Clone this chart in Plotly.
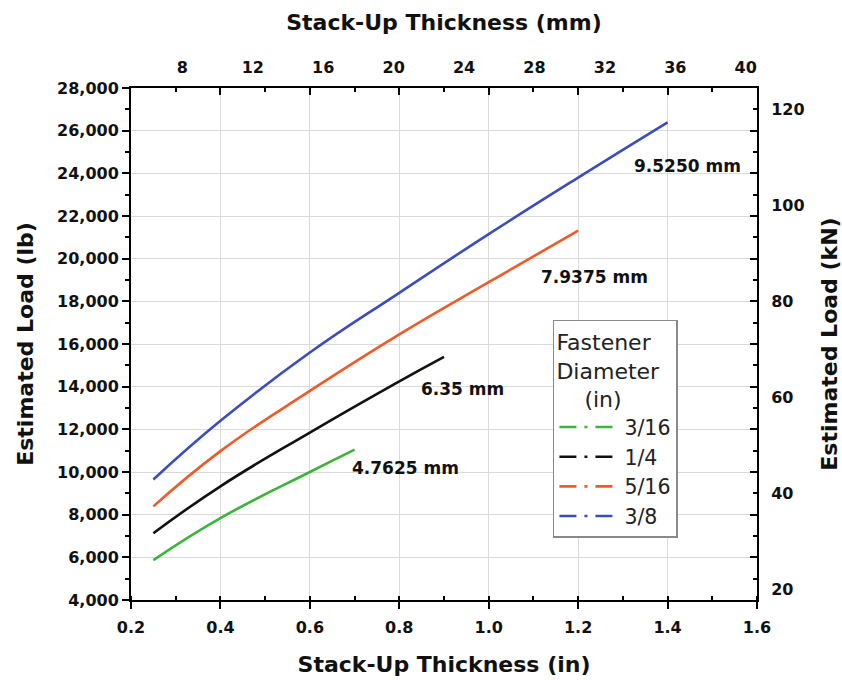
import plotly.graph_objects as go

# ---- data ----
diam_names = ["3/16", "1/4", "5/16", "3/8"]
diam_labels = ["4.7625 mm", "6.35 mm", "7.9375 mm", "9.5250 mm"]
colors = ["#3cb43c", "#111111", "#f05a28", "#3a4cc0"]

x_316 = [0.25, 0.4, 0.6, 0.7]
y_316 = [5870, 7840, 10000, 11050]
x_14 = [0.25, 0.4, 0.6, 0.8, 0.9]
y_14 = [7130, 9330, 11850, 14250, 15400]
x_516 = [0.25, 0.4, 0.6, 0.8, 1.0, 1.2]
y_516 = [8390, 10980, 13800, 16450, 18900, 21310]
x_38 = [0.25, 0.4, 0.6, 0.8, 1.0, 1.2, 1.4]
y_38 = [9650, 12400, 15600, 18400, 21150, 23800, 26390]

xs = [x_316, x_14, x_516, x_38]
ys = [y_316, y_14, y_516, y_38]

x_range_in = [0.2, 1.6]
y_range_lb = [4000, 28000]
IN_TO_MM = 25.4
LB_TO_KN = 0.00444822
mm_ticks = [8, 12, 16, 20, 24, 28, 32, 36, 40]
kn_ticks = [20, 40, 60, 80, 100, 120]

FONT = "DejaVu Sans"
tickfont = dict(family=FONT, size=16, color="#111", weight="bold")
titlefont = dict(family=FONT, size=22, color="#111", weight="bold")
clear = "rgba(0,0,0,0)"

fig = go.Figure()

for xv, yv, c in zip(xs, ys, colors):
    fig.add_trace(go.Scatter(x=xv, y=yv, mode="lines",
                             line=dict(color=c, width=2.6, shape="spline", smoothing=1.3),
                             showlegend=False, hoverinfo="skip"))

# legend entries (dash-dot samples)
for name, c in zip(diam_names, colors):
    fig.add_trace(go.Scatter(x=[None], y=[None], mode="lines", name=name,
                             line=dict(color=c, width=2.6, dash="17px,8px,3px,8px")))

# invisible traces that carry the secondary (mm / kN) and mirrored axes
fig.add_trace(go.Scatter(x=[v * IN_TO_MM for v in x_38], y=[v * LB_TO_KN for v in y_38],
                         xaxis="x2", yaxis="y2", mode="lines", line=dict(color=clear, width=0),
                         showlegend=False, hoverinfo="skip"))
fig.add_trace(go.Scatter(x=x_38, y=y_38, xaxis="x3", yaxis="y3", mode="lines",
                         line=dict(color=clear, width=0), showlegend=False, hoverinfo="skip"))

# labels at curve ends
label_pos = [(0.69, 10200), (0.845, 13890), (1.112, 19160), (1.32, 24350)]
for (lx, ly), t in zip(label_pos, diam_labels):
    fig.add_annotation(x=lx, y=ly, text=t, showarrow=False, xanchor="left", yanchor="middle",
                       font=dict(family=FONT, size=17, color="#111", weight="bold"))

grid = "#dadada"
fig.update_layout(
    width=842, height=680,
    margin=dict(l=131, r=85, t=88, b=80, autoexpand=False),
    paper_bgcolor="white", plot_bgcolor="white",
    xaxis=dict(range=x_range_in, dtick=0.2, tick0=0.2, tickformat=".1f", automargin=False,
               showline=True, linecolor="black", linewidth=2,
               ticks="outside", ticklen=7, tickwidth=2, tickcolor="black", ticklabelstandoff=5,
               minor=dict(dtick=0.1, ticks="inside", ticklen=4, tickwidth=2, tickcolor="black", showgrid=False),
               showgrid=True, gridcolor=grid, gridwidth=1, zeroline=False,
               tickfont=tickfont,
               title=dict(text="Stack-Up Thickness (in)", font=titlefont, standoff=20)),
    xaxis3=dict(range=x_range_in, overlaying="x", side="top", anchor="y3", dtick=0.2, tick0=0.2,
                automargin=False,
                showline=True, linecolor="black", linewidth=2,
                ticks="inside", ticklen=7, tickwidth=2, tickcolor="black",
                minor=dict(dtick=0.1, ticks="inside", ticklen=4, tickwidth=2, tickcolor="black", showgrid=False),
                showticklabels=False, showgrid=False, zeroline=False),
    xaxis2=dict(range=[x_range_in[0] * IN_TO_MM, x_range_in[1] * IN_TO_MM], overlaying="x", side="top",
                anchor="y2", tickvals=mm_ticks, ticks="outside", ticklen=8, tickcolor=clear,
                automargin=False,
                showline=False, showgrid=False, zeroline=False,
                tickfont=tickfont,
                title=dict(text="Stack-Up Thickness (mm)", font=titlefont, standoff=20)),
    yaxis=dict(range=y_range_lb, dtick=2000, tickformat=",", automargin=False,
               showline=True, linecolor="black", linewidth=2,
               ticks="outside", ticklen=7, tickwidth=2, tickcolor="black",
               minor=dict(dtick=1000, ticks="outside", ticklen=4, tickwidth=2, tickcolor="black", showgrid=False),
               showgrid=True, gridcolor=grid, gridwidth=1, zeroline=False,
               tickfont=tickfont,
               title=dict(text="Estimated Load (lb)", font=titlefont, standoff=17)),
    yaxis3=dict(range=y_range_lb, overlaying="y", side="right", anchor="x3", dtick=2000,
                automargin=False,
                showline=True, linecolor="black", linewidth=2,
                ticks="inside", ticklen=7, tickwidth=2, tickcolor="black",
                minor=dict(dtick=1000, ticks="inside", ticklen=4, tickwidth=2, tickcolor="black", showgrid=False),
                showticklabels=False, showgrid=False, zeroline=False),
    yaxis2=dict(range=[y_range_lb[0] * LB_TO_KN, y_range_lb[1] * LB_TO_KN], overlaying="y", side="right",
                anchor="x2", tickvals=kn_ticks, ticks="outside", ticklen=10, tickcolor=clear,
                automargin=False,
                showline=False, showgrid=False, zeroline=False,
                tickfont=tickfont,
                title=dict(text="Estimated Load (kN)", font=titlefont, standoff=18)),
    legend=dict(x=0.674, y=0.547, xanchor="left", yanchor="top",
                bgcolor="white", bordercolor="#8a8a8a", borderwidth=1.5,
                font=dict(family=FONT, size=20.5, color="#222"),
                title=dict(text="Fastener<br>Diameter<br>    (in)", font=dict(family=FONT, size=22, color="#222")),
                itemwidth=60),
    showlegend=True,
)

fig.write_html("out.html")
